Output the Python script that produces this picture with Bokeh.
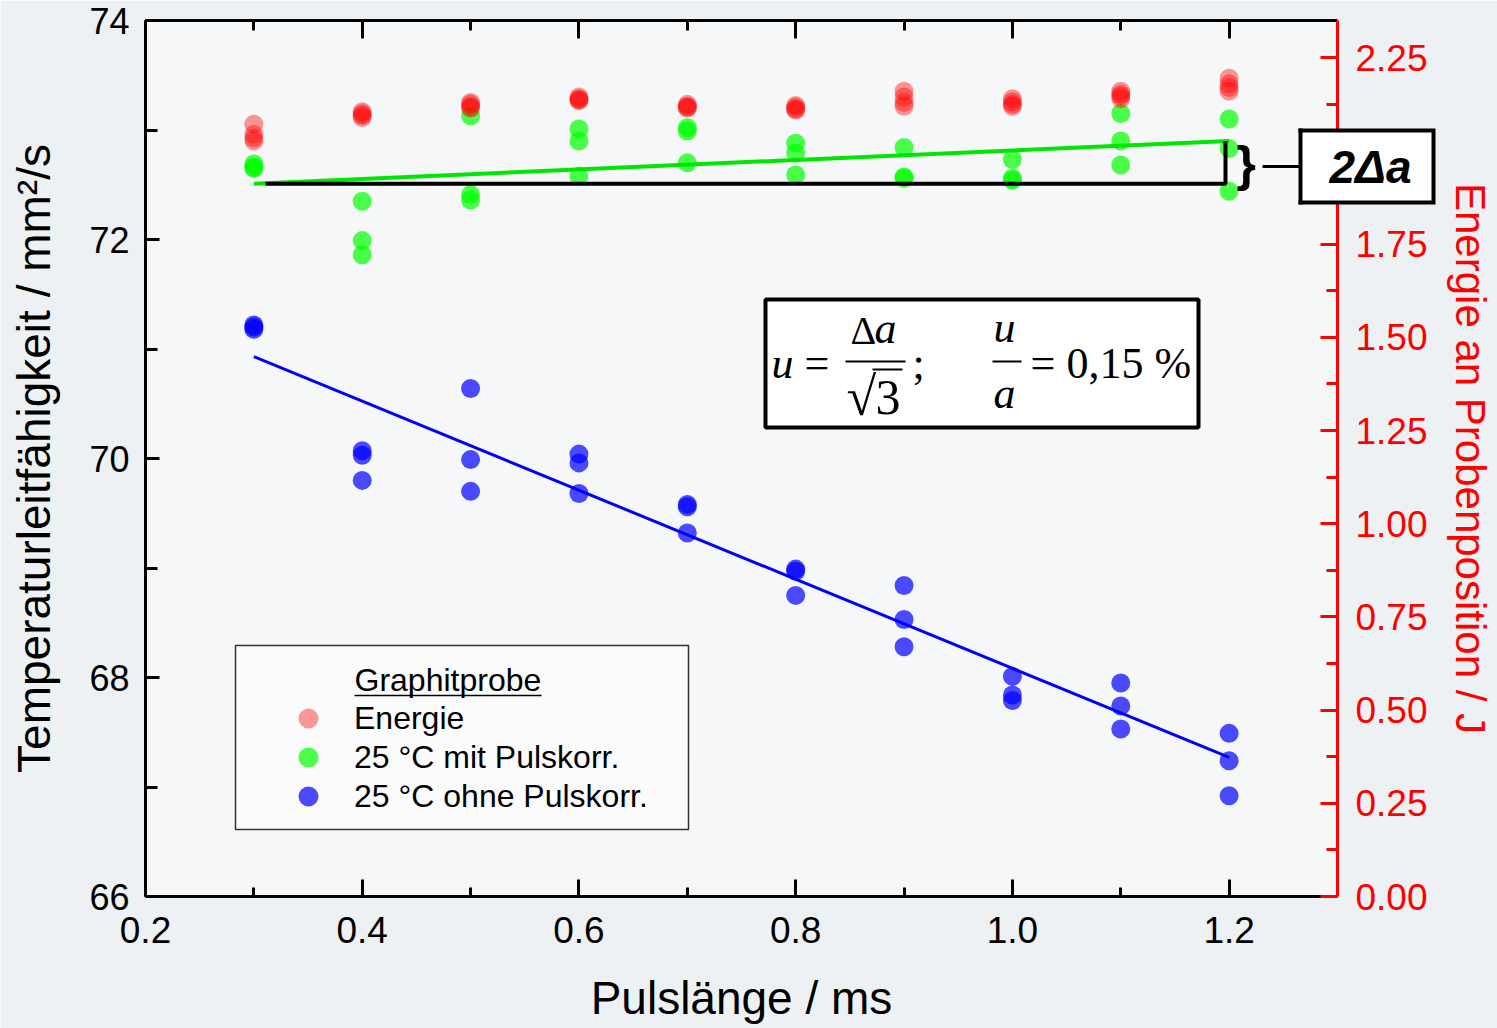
from bokeh.plotting import figure
from bokeh.models import (ColumnDataSource, Range1d, LinearAxis, FixedTicker, Legend, LegendItem,
                          Label, BoxAnnotation, PrintfTickFormatter, CustomJSTickFormatter)
from bokeh.embed import file_html
from bokeh.resources import INLINE

# ---------------------------------------------------------------- data
pulse_ms = [0.3, 0.4, 0.5, 0.6, 0.7, 0.8, 0.9, 1.0, 1.1, 1.2]

# pulse energy at the sample position / J (four shots per pulse length)
energy_shot1 = [2.072, 2.105, 2.130, 2.145, 2.125, 2.122, 2.160, 2.140, 2.160, 2.195]
energy_shot2 = [2.045, 2.100, 2.125, 2.140, 2.120, 2.117, 2.145, 2.132, 2.152, 2.180]
energy_shot3 = [2.035, 2.095, 2.118, 2.137, 2.117, 2.112, 2.130, 2.125, 2.147, 2.170]
energy_shot4 = [2.027, 2.090, 2.115, 2.135, 2.115, 2.110, 2.120, 2.120, 2.140, 2.160]

# thermal diffusivity at 25 °C with pulse-length correction / mm²/s
corr_shot1 = [72.69, 72.35, 73.13, 73.01, 73.02, 72.88, 72.84, 72.73, 73.15, 73.10]
corr_shot2 = [72.66, 71.99, 72.41, 72.90, 72.99, 72.79, 72.57, 72.56, 72.90, 72.83]
corr_shot3 = [72.65, 71.86, 72.36, 72.58, 72.70, 72.59, 72.56, 72.54, 72.68, 72.44]

# thermal diffusivity at 25 °C without pulse-length correction / mm²/s
raw_shot1 = [71.22, 70.07, 70.64, 70.04, 69.58, 68.99, 68.84, 68.01, 67.95, 67.49]
raw_shot2 = [71.18, 70.03, 69.99, 69.96, 69.56, 68.97, 68.53, 67.84, 67.74, 67.24]
raw_shot3 = [71.20, 69.80, 69.70, 69.68, 69.32, 68.75, 68.28, 67.79, 67.53, 66.92]

# linear fits, evaluated at the first and last pulse length
fit_pulse_ms = [0.3, 1.2]
fit_corr = [72.51, 72.90]
fit_raw = [70.93, 67.27]

x_ticks = [0.2, 0.4, 0.6, 0.8, 1.0, 1.2]
x_minor = [0.3, 0.5, 0.7, 0.9, 1.1]
a_ticks = [66, 68, 70, 72, 74]
a_minor = [67, 69, 71, 73]
e_ticks = [0.0, 0.25, 0.5, 0.75, 1.0, 1.25, 1.5, 1.75, 2.0, 2.25]
e_minor = [0.125, 0.375, 0.625, 0.875, 1.125, 1.375, 1.625, 1.875, 2.125]

# ---------------------------------------------------------------- layout helpers
W, H = 1497, 1028
FL, FR, FT, FB = 145, 1337, 20, 896
X_LO, X_HI = 0.2, 1.3
A_LO, A_HI = 66.0, 74.0
E_LO, E_HI = 0.0, 2.35
K_BASE = 0.33          # shift that puts an alphabetic label on the wanted baseline
RED_PANEL = 153        # width taken by the energy axis (ticks, labels, title)


def sx(px):
    return X_LO + (px - FL) * (X_HI - X_LO) / (FR - FL)


def sy(py):
    return A_HI - (py - FT) * (A_HI - A_LO) / (FB - FT)


SANS = "Liberation Sans"
SERIF = "Liberation Serif"
RED = "#ff0000"
PLOT_BG = "#f6f7f8"


def stack(shots):
    xs, ys = [], []
    for s in shots:
        xs += pulse_ms
        ys += s
    return ColumnDataSource(dict(x=xs, y=ys))


src_energy = stack([energy_shot1, energy_shot2, energy_shot3, energy_shot4])
src_corr = stack([corr_shot1, corr_shot2, corr_shot3])
src_raw = stack([raw_shot1, raw_shot2, raw_shot3])

p = figure(width=W, height=H, output_backend="svg", toolbar_location=None,
           x_range=Range1d(X_LO, X_HI), y_range=Range1d(A_LO, A_HI),
           min_border_left=FL, min_border_right=W - FR, min_border_top=FT,
           min_border_bottom=H - FB)
p.extra_y_ranges = {"energy": Range1d(E_LO, E_HI)}
p.background_fill_color = PLOT_BG
p.border_fill_color = "#eef1f3"
p.outline_line_color = None
p.xgrid.grid_line_color = None
p.ygrid.grid_line_color = None


def style_axis(ax, color, major, minor, label_size):
    ax.axis_line_color = color
    ax.axis_line_width = 3
    ax.major_tick_line_color = color
    ax.minor_tick_line_color = color
    ax.major_tick_line_width = 3
    ax.minor_tick_line_width = 3
    ax.major_tick_in = major
    ax.major_tick_out = 0
    ax.minor_tick_in = minor
    ax.minor_tick_out = 0
    ax.major_label_text_color = color
    ax.major_label_text_font = SANS
    ax.major_label_text_font_size = label_size
    ax.axis_label_text_color = color
    ax.axis_label_text_font = SANS
    ax.axis_label_text_font_style = "normal"


def bare_axis(ticks=()):
    """A right-hand guide with nothing drawn by default and no panel width."""
    ax = LinearAxis(ticker=FixedTicker(ticks=list(ticks)),
                    formatter=CustomJSTickFormatter(code="return ''"))
    ax.axis_line_color = None
    ax.major_tick_line_color = None
    ax.minor_tick_line_color = None
    ax.major_tick_in = 0
    ax.major_tick_out = 0
    ax.minor_tick_in = 0
    ax.minor_tick_out = 0
    ax.major_label_standoff = 0
    ax.major_label_text_font_size = "0px"
    ax.level = "annotation"
    return ax


# bottom axis
xa = p.xaxis[0]
xa.ticker = FixedTicker(ticks=x_ticks, minor_ticks=x_minor)
xa.formatter = PrintfTickFormatter(format="%.1f")
style_axis(xa, "black", 17, 9, "37px")
xa.major_label_standoff = 20
xa.axis_label = "Pulslänge / ms"
xa.axis_label_text_font_size = "46px"
xa.axis_label_standoff = 26

# left axis
ya = p.yaxis[0]
ya.ticker = FixedTicker(ticks=a_ticks, minor_ticks=a_minor)
ya.formatter = PrintfTickFormatter(format="%d")
style_axis(ya, "black", 14, 12, "36px")
ya.major_label_standoff = 16
ya.axis_label = "Temperaturleitfähigkeit / mm²/s"
ya.axis_label_text_font_size = "46px"
ya.axis_label_standoff = 26

# top axis: ticks only
top = LinearAxis(ticker=FixedTicker(ticks=x_ticks, minor_ticks=x_minor),
                 formatter=CustomJSTickFormatter(code="return ''"))
style_axis(top, "black", 18, 10, "0px")
top.major_label_standoff = 0
p.add_layout(top, "above")

# box for "2Δa" straddling the energy axis: two thick, bounded axis lines
# centred on the frame edge (black outline, white inside), painted after the
# energy axis and without taking panel width
BOX_R, BOX_T, BOX_B, BW = 1435, 128, 204, 4
box_outer = bare_axis()
box_outer.axis_line_color = "black"
box_outer.axis_line_width = 2 * (BOX_R - FR)
box_outer.bounds = (sy(BOX_B), sy(BOX_T))
p.add_layout(box_outer, "right")
box_inner = bare_axis()
box_inner.axis_line_color = "white"
box_inner.axis_line_width = 2 * (BOX_R - BW - FR)
box_inner.bounds = (sy(BOX_B - BW), sy(BOX_T + BW))
p.add_layout(box_inner, "right")

# right axis: pulse energy
ea = LinearAxis(y_range_name="energy",
                ticker=FixedTicker(ticks=e_ticks, minor_ticks=e_minor),
                formatter=PrintfTickFormatter(format="%.2f"))
style_axis(ea, RED, 17, 11, "37px")
ea.major_label_standoff = 18
ea.axis_label = "Energie an Probenposition / J"
ea.axis_label_text_font_size = "42px"
ea.axis_label_standoff = 16
p.add_layout(ea, "right")

# the "2Δa" text, pulled back into the box by a negative label standoff
box_text = bare_axis(ticks=[sy(166)])
box_text.formatter = CustomJSTickFormatter(code="return '2\u0394a'")
box_text.major_label_text_font = SANS
box_text.major_label_text_font_size = "46px"
box_text.major_label_text_font_style = "bold italic"
box_text.major_label_text_color = "black"
box_text.major_label_standoff = 1323 - (FR + RED_PANEL)
p.add_layout(box_text, "right")

# ---------------------------------------------------------------- data marks
r_corr = p.scatter("x", "y", source=src_corr, size=19, marker="circle",
                   fill_color="#00ff00", fill_alpha=0.7, line_color=None)
r_raw = p.scatter("x", "y", source=src_raw, size=19, marker="circle",
                  fill_color="#0000ff", fill_alpha=0.7, line_color=None)
p.line(fit_pulse_ms, fit_raw, line_color="#0000ff", line_width=3)
p.line(fit_pulse_ms, fit_corr, line_color="#00e600", line_width=4)
r_energy = p.scatter("x", "y", source=src_energy, size=19, marker="circle",
                     fill_color=RED, fill_alpha=0.4, line_color=None,
                     y_range_name="energy")

# spread of the corrected fit: 2Δa
bx0, bx1 = sx(265), sx(1225)
p.line([bx0, bx1, bx1], [fit_corr[0], fit_corr[0], fit_corr[1]],
       line_color="black", line_width=4)

# trim the box on its left side and close it with its left edge
box_left = BOX_R - 2 * (BOX_R - FR)
p.add_layout(BoxAnnotation(left=sx(box_left - 1), right=sx(1298), top=sy(BOX_T - 2),
                           bottom=sy(BOX_B + 2), fill_color=PLOT_BG, fill_alpha=1,
                           line_color=None))
p.add_layout(BoxAnnotation(left=sx(1298), right=sx(1298 + BW), top=sy(BOX_T),
                           bottom=sy(BOX_B), fill_color="black", fill_alpha=1,
                           line_color=None))

p.add_layout(Label(x=sx(1236), y=sy(163), text="}", text_font=SANS,
                   text_font_size="50px", text_font_style="bold",
                   text_baseline="middle", text_align="left", text_color="black"))
p.add_layout(BoxAnnotation(left=sx(1262), right=sx(1299), bottom=sy(167.5), top=sy(164.5),
                           fill_color="black", fill_alpha=1, line_color=None))

# uncertainty formula
p.add_layout(BoxAnnotation(left=sx(765), right=sx(1198), top=sy(299), bottom=sy(427),
                           fill_color="white", fill_alpha=1, line_color="black",
                           line_alpha=1, line_width=4))


def ftext(px, py, text, size=44, style="normal", font=SERIF):
    p.add_layout(Label(x=sx(px), y=sy(py - K_BASE * size), text=text, text_font=font,
                       text_font_size=f"{size}px", text_font_style=style,
                       text_baseline="alphabetic", text_align="left", text_color="black"))


def hbar(px0, px1, py, thick=2.0):
    p.add_layout(BoxAnnotation(left=sx(px0), right=sx(px1), top=sy(py - thick / 2),
                               bottom=sy(py + thick / 2), fill_color="black", fill_alpha=1,
                               line_color=None))


ftext(771, 378, "u", style="italic")
ftext(804, 378, "=")
ftext(850, 343, "Δ", size=40)
ftext(874, 343, "a", size=44, style="italic")
hbar(845, 905, 361)
ftext(846, 414, "√", size=54)
ftext(875, 413, "3", size=50)
hbar(872, 902, 369)
ftext(912, 378, ";")
ftext(993, 342, "u", size=44, style="italic")
hbar(992, 1021, 361)
ftext(993, 408, "a", size=44, style="italic")
ftext(1030, 378, "=")
ftext(1066, 378, "0,15 %")

# ---------------------------------------------------------------- legend
p.add_layout(BoxAnnotation(left=sx(235), right=sx(688), top=sy(645), bottom=sy(829),
                           fill_color="white", fill_alpha=0.55, line_color="#333333",
                           line_alpha=1, line_width=1.5))
ftext(354, 690, "Graphitprobe", size=32, font=SANS)
hbar(354, 541, 695, 1.6)

legend_rows = [("Energie", r_energy, 718),
               ("25 °C mit Pulskorr.", r_corr, 757),
               ("25 °C ohne Pulskorr.", r_raw, 796)]
for label, rend, row_y in legend_rows:
    p.add_layout(Legend(items=[LegendItem(label=label, renderers=[rend])],
                        location=(283 - FL, FB - (row_y + 25)), orientation="vertical",
                        glyph_width=50, glyph_height=50, spacing=0, padding=0, margin=0,
                        label_standoff=21, label_text_font=SANS, label_text_font_size="32px",
                        label_text_color="black", border_line_alpha=0,
                        background_fill_alpha=0))

open("out.html", "w").write(file_html(p, INLINE))
